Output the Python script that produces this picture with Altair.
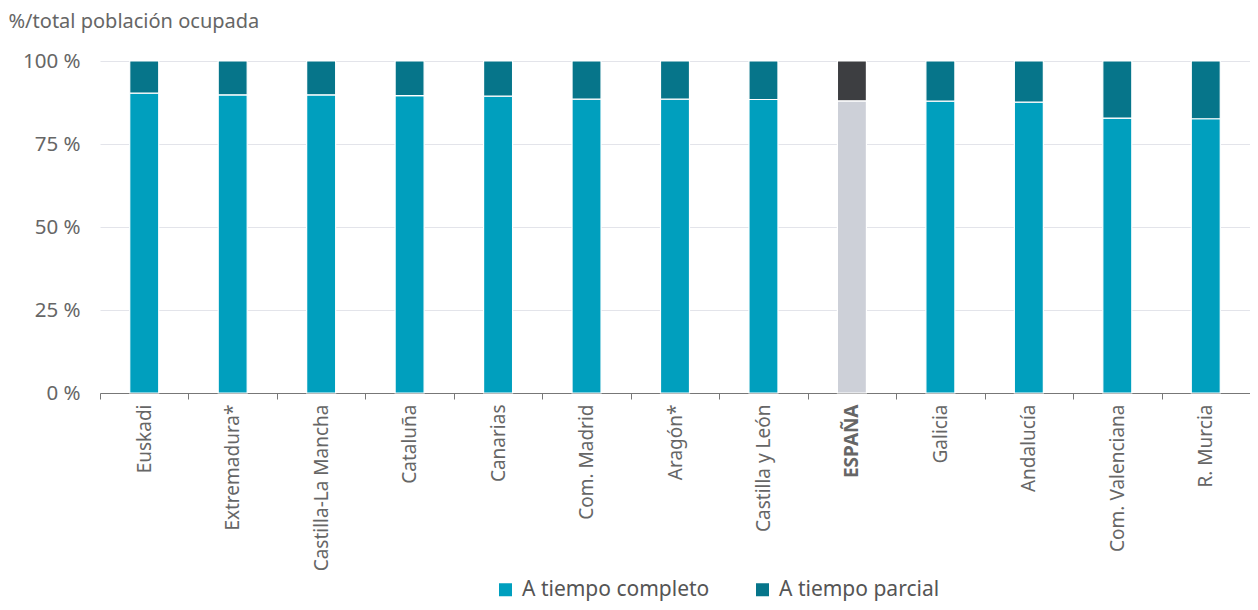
import altair as alt
import pandas as pd

regiones = ["Euskadi", "Extremadura*", "Castilla-La Mancha", "Cataluña", "Canarias",
            "Com. Madrid", "Aragón*", "Castilla y León", "ESPAÑA", "Galicia",
            "Andalucía", "Com. Valenciana", "R. Murcia"]
completo = [90.3, 89.8, 89.8, 89.6, 89.4, 88.5, 88.5, 88.4, 88.0, 87.9, 87.6, 82.8, 82.6]
parcial = [9.7, 10.2, 10.2, 10.4, 10.6, 11.5, 11.5, 11.6, 12.0, 12.1, 12.4, 17.2, 17.4]

series = ["A tiempo completo", "A tiempo parcial"]
colores = ["#009fbe", "#06758a", "#cdd0d8", "#3d3e41"]
claves = ["A tiempo completo", "A tiempo parcial", "ESPAÑA completo", "ESPAÑA parcial"]

rows = []
for r, c, p in zip(regiones, completo, parcial):
    esp = r == "ESPAÑA"
    rows.append({"region": r, "serie": series[0], "valor": c, "ord": 0,
                 "clave": claves[2] if esp else claves[0]})
    rows.append({"region": r, "serie": series[1], "valor": p, "ord": 1,
                 "clave": claves[3] if esp else claves[1]})
df = pd.DataFrame(rows)

FONT = "Noto Sans"

chart = alt.Chart(df).mark_bar(size=29, stroke="white", strokeWidth=1.2).encode(
    x=alt.X("region:N", sort=regiones, title=None,
            scale=alt.Scale(paddingInner=0, paddingOuter=0),
            axis=alt.Axis(labelAngle=-90, tickBand="extent", ticks=True, tickSize=6,
                          tickColor="#777", domainColor="#777", labelPadding=5,
                          labelFontSize=19, labelColor="#666", labelFont=FONT,
                          labelFontWeight={"condition": {"test": "datum.value == 'ESPAÑA'", "value": "bold"}, "value": "normal"},
                          grid=False, labelLimit=300)),
    y=alt.Y("valor:Q", stack="zero", scale=alt.Scale(domain=[0, 100]),
            title="%/total población ocupada",
            axis=alt.Axis(values=[0, 25, 50, 75, 100], labelExpr="datum.value + ' %'",
                          ticks=False, domain=False, labelPadding=20,
                          labelFontSize=20.5, labelColor="#666", labelFont=FONT,
                          gridColor="#e3e4ea", gridWidth=1,
                          titleAngle=0, titleX=-92, titleY=-34, titleAlign="left",
                          titleBaseline="alphabetic", titleFontSize=20,
                          titleFontWeight="normal", titleColor="#666", titleFont=FONT)),
    color=alt.Color("clave:N", scale=alt.Scale(domain=claves, range=colores),
                    legend=alt.Legend(values=series, title=None, orient="none",
                                      direction="horizontal", legendX=395, legendY=518,
                                      symbolType="square", symbolSize=169,
                                      symbolStrokeWidth=0, labelFontSize=21,
                                      labelColor="#555", labelFont=FONT, labelLimit=400,
                                      columnPadding=42, labelOffset=6)),
    order=alt.Order("ord:Q"),
).properties(
    width=1150, height=332,
    autosize=alt.AutoSizeParams(type="none"),
    padding={"left": 92, "top": 53, "right": 0, "bottom": 209},
).configure_view(stroke=None)

chart.save("out.html", embed_options={"renderer": "svg", "actions": False})
